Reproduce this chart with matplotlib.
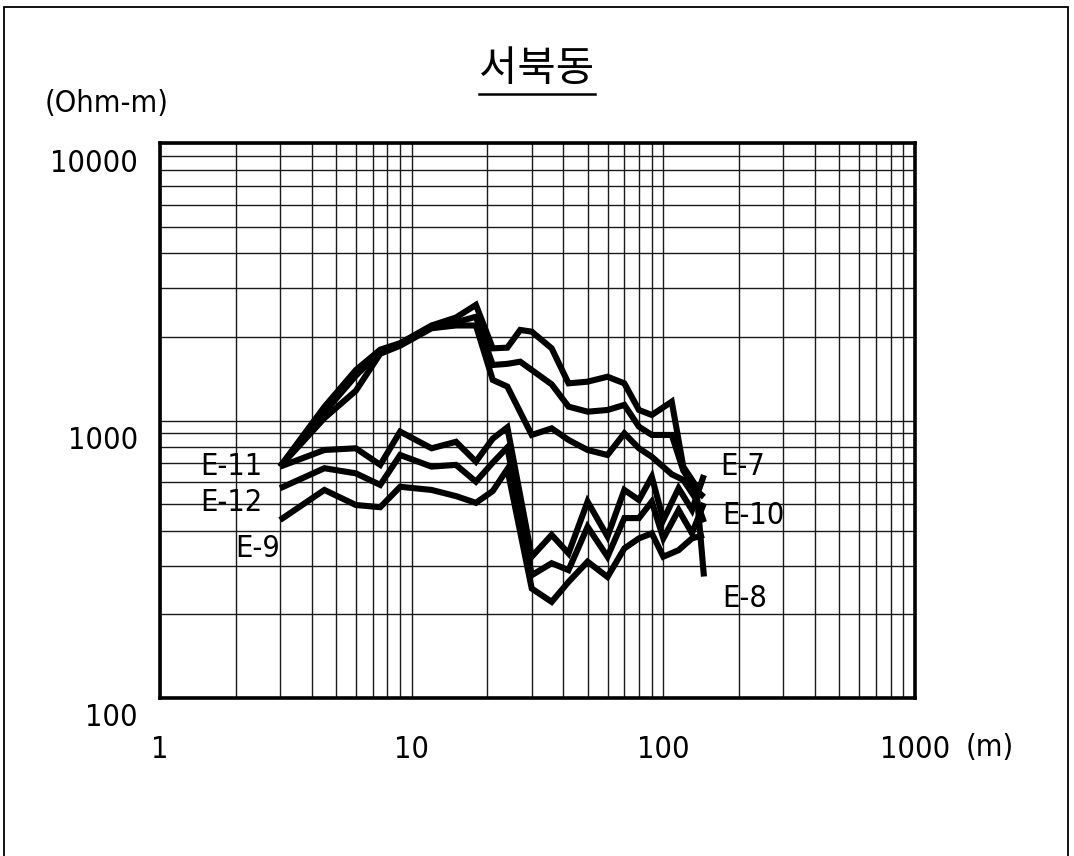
import matplotlib
matplotlib.use("Agg")
import matplotlib.pyplot as plt
import numpy as np
from matplotlib.transforms import ScaledTranslation
from matplotlib.lines import Line2D
from matplotlib.patches import Rectangle

# spacing (m) of the readings, upper group and lower group
x_upper = [3, 4.5, 6, 7.5, 9, 12, 15, 18, 21, 24, 27, 30, 36, 42, 50, 60, 70, 80, 90, 108, 120, 135, 145]
x_lower = [3, 4.5, 6, 7.5, 9, 12, 15, 18, 21, 24, 30, 36, 42, 50, 60, 70, 80, 90, 100, 115, 130, 145]

nan = np.nan
# apparent resistivity (Ohm-m)
e8 = [682, 1120, 1520, 1800, 1900, 2200, 2350, 2610, 1820, 1830, 2120, 2090, 1820, 1361, 1380, 1438, 1361, 1091, 1047, 1169, 682, 580, 274]
e10 = [682, 1070, 1450, 1770, 1880, 2180, 2260, 2365, 1585, 1600, 1629, nan, 1350, 1122, 1076, 1091, 1138, 950, 887, 887, 660, 560, 530]
e7 = [682, 1020, 1280, 1740, 1860, 2150, 2200, 2200, 1400, 1325, nan, 887, 937, 851, 783, 751, 899, 794, 740, 640, 611, 520, 430]

e11 = [682, 783, 794, 692, 912, 794, 838, 711, 860, 945, 323, 387, 332, 510, 382, 562, 517, 627, 438, 570, 476, 636]
e12 = [570, 673, 645, 586, 751, 682, 692, 602, 705, 800, 277, 306, 289, 414, 323, 445, 445, 510, 376, 476, 392, 504]
e9 = [438, 562, 496, 487, 577, 562, 534, 505, 557, 668, 248, 222, 262, 310, 273, 346, 376, 392, 323, 341, 376, 387]

upper_series = [e8, e10, e7]
lower_series = [e11, e12, e9]

# label text with anchor point in data coords
left_labels = [("E-11", 2.55, 680), ("E-12", 2.55, 508), ("E-9", 3.0, 347)]
right_labels = [("E-7", 168, 680), ("E-10", 171, 456), ("E-8", 171, 229)]

plt.rcParams["font.family"] = ["DejaVu Sans"]
plt.rcParams["font.stretch"] = "condensed"
fsize = 22


def draw_line(ax, xs, ys):
	xs = np.asarray(xs, dtype=float)
	ys = np.asarray(ys, dtype=float)
	ok = ~np.isnan(ys)
	ax.plot(xs[ok], ys[ok], color="black", lw=4.4, solid_joinstyle="miter", solid_capstyle="butt", zorder=3)


def main():
	fig = plt.figure(figsize=(10.74, 8.56), dpi=100)
	ax = fig.add_axes([160 / 1074, 1 - 698 / 856, 755 / 1074, 555 / 856])

	ax.set_xscale("log")
	ax.set_yscale("log")
	ax.set_xlim(1, 1000)
	ax.set_ylim(100, 10000)

	ax.grid(True, which="both", color="#1a1a1a", lw=1.0)
	ax.set_axisbelow(True)
	for s in ax.spines.values():
		s.set_linewidth(2.6)

	for ys in upper_series:
		draw_line(ax, x_upper, ys)
	for ys in lower_series:
		draw_line(ax, x_lower, ys)

	ax.set_xticks([1, 10, 100, 1000])
	ax.set_xticklabels(["1", "10", "100", "1000"])
	ax.set_yticks([100, 1000, 10000])
	ax.set_yticklabels(["100", "1000", "10000"])
	ax.tick_params(which="both", length=0)
	ax.tick_params(axis="x", pad=27, labelsize=fsize)
	ax.tick_params(axis="y", pad=16, labelsize=fsize)
	for lab in ax.get_yticklabels():
		lab.set_transform(lab.get_transform() + ScaledTranslation(0, -0.17, fig.dpi_scale_trans))

	for txt, x, y in left_labels:
		ax.text(x, y, txt, ha="right", va="center", fontsize=fsize)
	for txt, x, y in right_labels:
		ax.text(x, y, txt, ha="left", va="center", fontsize=fsize)

	fig.text(990 / 1074, 1 - 748 / 856, "(m)", ha="center", va="center", fontsize=fsize)
	fig.text(45 / 1074, 1 - 104 / 856, "(Ohm-m)", ha="left", va="center", fontsize=fsize)

	title = fig.text(0.5, 1 - 70 / 856, "서북동", ha="center", va="center", fontsize=30,
		family=["Noto Sans CJK KR", "DejaVu Sans"])
	fig.canvas.draw()
	bb = title.get_window_extent(fig.canvas.get_renderer())
	uy = (bb.y0 - 3) / fig.bbox.height
	fig.add_artist(Line2D([bb.x0 / fig.bbox.width, bb.x1 / fig.bbox.width], [uy, uy],
		transform=fig.transFigure, color="black", lw=1.8))

	# outer frame of the figure
	fig.add_artist(Rectangle((4 / 1074, -0.01), 1064 / 1074, 1 - 7 / 856 + 0.01, transform=fig.transFigure,
		fill=False, edgecolor="black", lw=1.3))

	fig.savefig("out.png", dpi=100)


if __name__ == "__main__":
	main()
